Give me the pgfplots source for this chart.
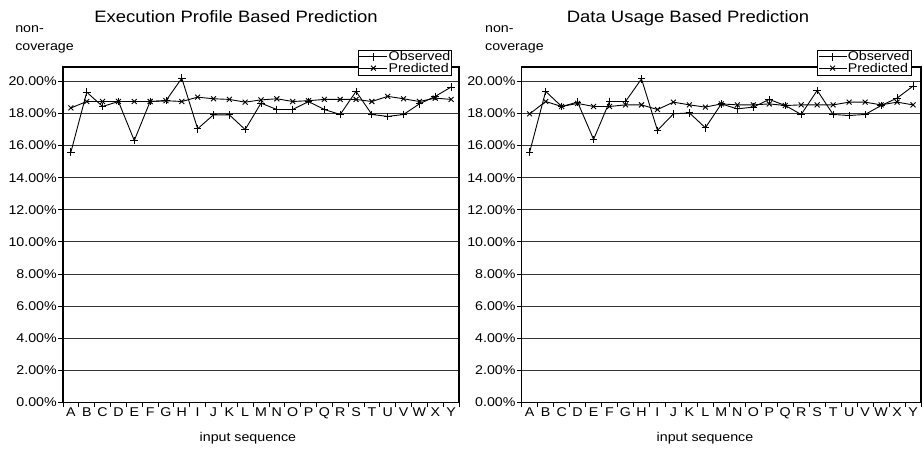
\documentclass[border=0pt]{standalone}
\usepackage{pgfplots}
\pgfplotsset{compat=1.18}
\usepackage{fontspec}
\setmainfont{Liberation Sans}[FakeStretch=1.12]
\newcommand{\fs}{\fontsize{12.7}{13}\selectfont}
\newcommand{\ft}{\fontsize{16.5}{17}\selectfont}

\pgfplotsset{
  chart/.style={
    scale only axis,
    clip mode=individual,
    height=335.3pt,
    xmin=-0.5, xmax=24.5,
    ymin=0, ymax=20.9,
    xtick={-0.5,0.5,...,24.5},
    x tick label as interval,
    xticklabels={A,B,C,D,E,F,G,H,I,J,K,L,M,N,O,P,Q,R,S,T,U,V,W,X,Y},
    ytick={0,2,...,20},
    yticklabels={0.00\%,2.00\%,4.00\%,6.00\%,8.00\%,10.00\%,12.00\%,14.00\%,16.00\%,18.00\%,20.00\%},
    tick pos=left,
    tick align=outside,
    major tick length=4.5pt,
    tick style={black, line width=0.8pt},
    ymajorgrids,
    major grid style={black!80, line width=0.9pt},
    axis line style={black, line width=1.4pt},
    ticklabel style={font=\fs},
    yticklabel style={inner sep=1.5pt},
    xticklabel style={inner sep=1pt},
    xlabel={input sequence},
    xlabel style={font=\fs, anchor=base, inner sep=0pt},
    every axis title shift=0pt,
    legend cell align=left,
    legend image code/.code={\draw[mark repeat=2,mark phase=2,##1] plot coordinates {(0pt,0pt) (14pt,0pt) (28pt,0pt)};},
    every axis plot/.append style={black, line width=0.9pt},
  },
  obs/.style={mark=+, mark size=3.8pt, mark options={line width=0.9pt}},
  pre/.style={mark=x, mark size=3.5pt, mark options={line width=0.9pt}},
}

\begin{document}
\begin{tikzpicture}
\path[use as bounding box] (0,0) rectangle (923pt,-448pt);

\begin{axis}[chart,
  at={(63pt,-402.3pt)}, anchor=south west,
  width=396pt,
  title={Execution Profile Based Prediction},
  every axis title/.style={at={(axis description cs:0.437,1.1342)}, anchor=base, font=\ft, inner sep=0pt},
  xlabel style={at={(axis description cs:0.467,-0.1160)}},
  legend style={at={(axis description cs:0.982,1.0507)}, anchor=north east, draw=black, fill=white,
    inner sep=0.5pt, font=\fs, nodes={inner sep=0.8pt}, row sep=-1pt},
]
\addplot[obs] coordinates {
(0,15.6) (1,19.33) (2,18.44) (3,18.75) (4,16.32) (5,18.75) (6,18.8) (7,20.2) (8,17.05) (9,17.92)
(10,17.92) (11,17.0) (12,18.65) (13,18.25) (14,18.25) (15,18.75) (16,18.25) (17,17.94) (18,19.38) (19,17.94)
(20,17.82) (21,17.94) (22,18.6) (23,19.07) (24,19.65)};
\addlegendentry{Observed}
\addplot[pre] coordinates {
(0,18.35) (1,18.75) (2,18.75) (3,18.75) (4,18.75) (5,18.75) (6,18.8) (7,18.75) (8,19.02) (9,18.92)
(10,18.88) (11,18.71) (12,18.85) (13,18.92) (14,18.75) (15,18.8) (16,18.88) (17,18.88) (18,18.88) (19,18.75)
(20,19.07) (21,18.92) (22,18.75) (23,18.96) (24,18.88)};
\addlegendentry{Predicted}
\node[anchor=base west, font=\fs, inner sep=0pt] at (axis description cs:-0.121,1.1044) {non-};
\node[anchor=base west, font=\fs, inner sep=0pt] at (axis description cs:-0.121,1.0507) {coverage};
\end{axis}

\begin{axis}[chart,
  at={(521.7pt,-402.3pt)}, anchor=south west,
  width=399.3pt,
  title={Data Usage Based Prediction},
  every axis title/.style={at={(axis description cs:0.4165,1.1342)}, anchor=base, font=\ft, inner sep=0pt},
  xlabel style={at={(axis description cs:0.459,-0.1160)}},
  legend style={at={(axis description cs:0.975,1.0507)}, anchor=north east, draw=black, fill=white,
    inner sep=0.5pt, font=\fs, nodes={inner sep=0.8pt}, row sep=-1pt},
]
\addplot[obs] coordinates {
(0,15.6) (1,19.38) (2,18.44) (3,18.71) (4,16.39) (5,18.75) (6,18.75) (7,20.16) (8,16.95) (9,17.98)
(10,18.04) (11,17.11) (12,18.6) (13,18.29) (14,18.4) (15,18.88) (16,18.5) (17,17.94) (18,19.44) (19,17.94)
(20,17.88) (21,17.94) (22,18.5) (23,18.96) (24,19.71)};
\addlegendentry{Observed}
\addplot[pre] coordinates {
(0,17.98) (1,18.75) (2,18.44) (3,18.63) (4,18.44) (5,18.44) (6,18.54) (7,18.54) (8,18.25) (9,18.71)
(10,18.54) (11,18.4) (12,18.6) (13,18.54) (14,18.54) (15,18.6) (16,18.5) (17,18.54) (18,18.54) (19,18.54)
(20,18.71) (21,18.71) (22,18.54) (23,18.71) (24,18.54)};
\addlegendentry{Predicted}
\node[anchor=base west, font=\fs, inner sep=0pt] at (axis description cs:-0.092,1.1044) {non-};
\node[anchor=base west, font=\fs, inner sep=0pt] at (axis description cs:-0.092,1.0507) {coverage};
\end{axis}
\end{tikzpicture}
\end{document}
